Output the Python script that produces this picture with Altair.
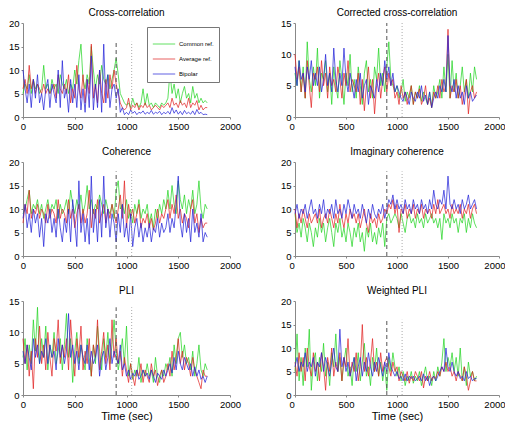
import altair as alt
import pandas as pd

TIME = list(range(0, 1800, 20))
SERIES = ["Common ref.", "Average ref.", "Bipolar"]
COLORS = ["#22d422", "#e02020", "#2020d8"]
EVENTS = [900, 1050]

TITLES = ["Cross-correlation", "Corrected cross-correlation", "Coherence",
          "Imaginary coherence", "PLI", "Weighted PLI"]
YMAX = [20, 15, 20, 20, 15, 20]
EVENT_TOP = [16, 15, 18, 18, 14, 16]
X_TICKS = [0, 500, 1000, 1500, 2000]

cc_green = [5, 7, 6, 9, 5, 8, 6, 7, 5, 6, 11, 6, 7, 5, 8, 6, 7, 5, 9, 7,
            6, 8, 5, 7, 6, 10, 7, 12, 15.5, 8, 6, 9, 7, 15, 10, 6, 9, 7, 11, 8,
            7, 9, 6, 8, 10, 12.5, 9, 5, 4, 3, 2.5, 3, 2, 4, 2.5, 3, 2, 3, 6, 2.5,
            5, 2.5, 3, 2, 3, 2.5, 2, 3, 2.5, 3, 4, 9.5, 5, 7, 4, 6, 3, 5, 6.5, 4,
            5, 3, 6.5, 4, 5, 3, 4, 3, 3.5, 3]
cc_red = [6, 8, 5, 11, 6, 8, 5, 7, 6, 5, 7, 5, 6, 5, 6, 7, 4, 9, 6, 5,
          7, 5, 9, 3, 6, 4, 11, 6, 4, 9, 3, 8, 5, 15.5, 4, 7, 3, 10, 5, 3,
          8, 4, 9, 6, 10, 7, 5, 3, 2, 1.5, 2, 4, 1.5, 2.5, 2, 3, 1.5, 2.5, 2, 3,
          2, 2.5, 1.5, 2, 2.5, 2, 1.5, 2.5, 2, 2.5, 3, 2, 4, 2.5, 3, 2, 3.5, 2.5, 3, 2,
          4, 2, 3, 2.5, 3.5, 1.5, 2.5, 1.5, 2, 2]
cc_blue = [10, 6, 3, 7, 2, 8, 4, 9, 3, 5, 1.5, 6, 8, 2, 7, 5, 3, 10, 2, 12,
           4, 6, 1, 8, 3, 7, 2, 9, 1.5, 6, 1, 8, 2, 13, 1.5, 7, 2, 10, 1, 15.5,
           3, 9, 2, 6, 7, 4, 6, 1, 2, 0.5, 1, 0.5, 1.5, 0.8, 1.2, 0.5, 1, 0.8, 1.3, 0.6,
           1, 0.7, 1.4, 0.6, 1, 0.8, 1.2, 0.5, 1, 0.7, 1.2, 0.6, 2, 0.8, 1.5, 0.6, 1.2, 0.5, 1.4, 0.7,
           1, 0.6, 1.3, 0.5, 1.6, 0.7, 1, 0.5, 0.6, 0.5]

ccc_green = [7, 5, 9, 4, 8, 3, 12, 6, 4, 8, 5, 11, 3, 7, 6, 9, 4, 7, 2, 8,
             5, 3, 9, 6, 2, 7, 5, 10, 4, 6, 3, 8, 5, 2, 7, 9, 4, 6, 3, 8,
             6, 11, 5, 7, 4, 8, 12, 6, 5, 4, 5, 3, 4, 6, 2.5, 4, 3, 5, 2, 4,
             3, 5, 2.5, 4, 3, 2, 4, 1.5, 5, 3, 4, 6, 3, 8, 4, 10, 3, 9, 4, 7,
             3, 5, 8, 4, 6, 3, 7, 4, 8, 6]
ccc_red = [10, 6, 8, 4, 7, 3, 9, 5, 1.5, 7, 6, 8, 4, 9, 5, 7, 3, 8, 5, 6,
           4, 8, 6, 3, 7, 5, 9, 4, 6, 5, 4, 7, 2, 6, 1, 5, 8, 3, 6, 0.5,
           5, 7, 3, 6, 8, 4, 7, 5, 6, 3, 4, 2, 5, 3, 4, 2, 3.5, 5, 2, 4,
           3, 4.5, 2, 3, 5, 2, 3, 1.5, 4, 3, 5, 3, 6, 4, 5, 14, 3, 5, 4, 6,
           3, 5, 2, 4, 6, 0.5, 4, 5, 3, 4]
ccc_blue = [8, 5, 9, 6, 7, 4, 8, 6, 9, 5, 7, 5, 8, 4, 6, 10, 5, 7, 4, 11,
            6, 4, 7, 5, 11, 6, 4, 7, 5, 3, 6, 4, 7, 3, 5, 6, 2, 5, 4, 3,
            6, 4, 7, 5, 9, 6, 8, 5, 7, 4, 5, 4, 3, 2.5, 4, 3, 2, 4, 3, 2.5,
            4, 3, 5, 2.5, 3.5, 2, 4, 1.5, 3, 4, 3, 5, 4, 6, 4, 13, 5, 4, 6, 3,
            5, 3, 4, 2, 5, 3, 4, 2.5, 3, 3.5]

coh_green = [9, 10, 12, 14, 9, 11, 10, 12, 9, 11, 8, 10, 12, 9, 11, 10, 12, 8, 11, 9,
             10, 12, 9, 14, 11, 9, 12, 10, 13, 9, 11, 15, 10, 12, 9, 11, 10, 13, 11, 9,
             12, 10, 9, 11, 8, 14, 16, 10, 11, 9, 12, 8, 10, 7, 11, 9, 12, 8, 10, 9,
             11, 7, 9, 6, 10, 8, 11, 9, 12, 10, 14, 10, 15, 11, 9, 16, 12, 10, 13, 9,
             12, 10, 14, 9, 11, 16, 10, 8, 11, 10]
coh_red = [7, 11, 9, 14, 8, 10, 9, 11, 8, 10, 9, 7, 11, 8, 10, 9, 7, 12, 8, 10,
           9, 7, 12, 8, 10, 6, 9, 11, 7, 10, 7, 9, 14, 6, 10, 8, 12, 7, 9, 11,
           7, 10, 8, 11, 9, 7, 10, 13, 8, 16, 6, 11, 8, 10, 7, 9, 11, 6, 8, 7,
           9, 6, 8, 5.5, 7, 10, 7, 9, 8, 10, 12, 8, 11, 9, 13, 8, 10, 7, 9, 8,
           6, 10, 12, 7, 9, 5, 8, 6, 7, 7]
coh_blue = [8, 11, 6, 9, 5, 10, 7, 9, 4, 8, 2, 9, 7, 10, 5, 8, 4, 10, 6, 3,
            8, 5, 10, 3, 12, 7, 2, 16, 5, 9, 3, 8, 2.5, 17, 5, 10, 3, 12, 4, 17,
            6, 10, 4, 9, 7, 3, 9, 5, 11, 4, 7, 3, 9, 2, 6, 8, 4, 7, 3, 6,
            4, 7, 3, 6, 5, 8, 4, 7, 5, 6, 9, 5, 8, 6, 11, 17, 7, 4, 9, 5,
            8, 3, 10, 5, 7, 4, 9, 3, 5, 4]

ic_green = [9, 5, 7, 4, 8, 6, 3, 7, 5, 2, 6, 4, 8, 5, 7, 3, 6, 8, 5, 2,
            7, 5, 8, 4, 6, 3, 7, 5, 2, 6, 4, 7, 3, 5, 1, 6, 4, 7, 3, 5,
            2.5, 6, 4, 7, 2, 8, 9, 7, 8, 9, 8, 6, 9, 7, 5, 8, 9, 7, 8, 6,
            9, 7, 8, 6, 9, 7, 8, 9, 7, 8, 6, 8, 3.5, 9, 7, 8, 6, 9, 7, 8,
            5, 8, 7, 9, 5, 8, 6, 9, 7, 6]
ic_red = [10, 6, 9, 7, 10, 8, 6, 9, 7, 8, 9, 7, 10, 6, 8, 9, 7, 10, 8, 6,
          9, 7, 11, 8, 6, 9, 7, 10, 8, 9, 7, 9, 6, 8, 10, 7, 5, 9, 7, 8,
          6, 9, 7, 8, 10, 9, 11, 10, 12, 9, 11, 5, 10, 9, 11, 8, 10, 9, 11, 8,
          10, 9, 11, 8, 10, 9, 10, 8, 11, 9, 12, 9, 10, 11, 9, 10, 8, 11, 9, 10,
          9, 11, 8, 10, 9, 11, 8, 10, 11, 9]
ic_blue = [9, 11, 8, 10, 9, 11, 8, 10, 12, 9, 10, 8, 11, 9, 12, 8, 10, 9, 11, 8,
           12, 9, 10, 8, 11, 9, 12, 10, 8, 11, 9, 10, 8, 11, 9, 7, 10, 8, 11, 9,
           8, 10, 9, 11, 8, 10, 12, 11, 13, 10, 12, 10, 11, 9, 12, 10, 11, 9, 12, 10,
           11, 9, 12, 10, 11, 9, 12, 10, 14, 11, 10, 12, 11, 14, 10, 17, 11, 10, 12, 10,
           11, 9, 12, 10, 11, 13, 10, 11, 12, 10]

pli_green = [6, 9, 4, 8, 5, 12, 7, 14, 5, 9, 6, 11, 4, 8, 6, 10, 5, 7, 9, 4,
             8, 13, 6, 9, 2, 7, 10, 5, 8, 6, 4, 9, 6, 3, 8, 5, 11, 7, 4, 9,
             6, 10, 5, 8, 12, 7, 4, 6, 9, 5, 11, 3, 5, 2.5, 4, 3, 6, 2, 4, 3,
             5, 3, 4, 2, 6, 3, 2, 4, 3, 5, 4, 6, 3, 8, 5, 9, 10, 6, 8, 5,
             6, 4, 7, 3, 5, 8, 4, 3, 5, 4]
pli_red = [9, 5, 8, 3, 7, 1, 9, 6, 11, 5, 8, 4, 10, 6, 3, 9, 7, 12, 5, 8,
           6, 9, 4, 12, 7, 3, 9, 6, 11, 4, 7, 5, 9, 3, 8, 6, 12, 4, 7, 10,
           5, 8, 4, 12, 6, 9, 5, 7, 3, 6, 4, 2, 5, 3, 1.5, 4, 3, 5, 2, 4,
           3, 2, 5, 3, 4, 1.5, 3, 4, 2, 3, 5, 3, 7, 4, 6, 9, 5, 7, 4, 6,
           5, 3, 6, 4, 3, 2, 1, 4, 3, 3]
pli_blue = [7, 5, 8, 6, 4, 9, 6, 8, 5, 7, 6, 9, 5, 8, 6, 7, 4, 9, 6, 8,
            5, 7, 13, 6, 8, 5, 7, 4, 8, 6, 5, 8, 4, 7, 5, 6, 8, 3, 6, 7,
            4, 6, 9, 5, 7, 6, 5, 8, 4, 5, 3, 4, 2.5, 3.5, 3, 4, 2.5, 3, 4, 3,
            3.5, 2.5, 4, 3, 2, 3.5, 3, 2.5, 4, 3, 4, 5, 3.5, 6, 4, 7, 5, 4, 6, 5,
            4, 5, 3, 4.5, 3, 4, 2.5, 3, 2, 3]

wpli_green = [5, 13, 3, 8, 2, 10, 6, 14, 1, 7, 9, 3, 8, 5, 11, 4, 7, 2, 9, 6,
              13, 5, 8, 3, 7, 10, 4, 6, 2, 8, 5, 9, 3, 7, 11, 4, 6, 2, 8, 5,
              10, 4, 7, 3, 6, 1, 8, 5, 9, 6, 4, 6, 3, 5, 2, 4, 3, 5, 2.5, 4,
              3, 5, 2, 4, 6, 3, 4, 2, 5, 3, 6, 4, 7, 12, 5, 8, 6, 9, 5, 8,
              4, 10, 3, 6, 2, 7, 4, 5, 3, 4]
wpli_red = [7, 4, 9, 5, 8, 3, 10, 6, 4, 9, 5, 7, 3, 9, 6, 1, 8, 5, 10, 4,
            7, 5, 9, 3, 8, 6, 12, 4, 7, 5, 9, 3, 6, 15, 5, 8, 4, 7, 12, 5,
            7, 4, 9, 5, 7, 8, 6, 4, 7, 5, 6, 3, 5, 4, 3, 5, 2.5, 4, 3, 5,
            4, 3, 5, 1.5, 4, 3, 5, 3, 4, 3.5, 5, 4, 6, 5, 7, 5, 6, 4, 5, 3,
            5, 4, 3, 6, 4, 1, 3, 5, 3, 3]
wpli_blue = [6, 8, 5, 7, 6, 9, 5, 7, 6, 8, 4, 7, 6, 9, 5, 8, 6, 4, 7, 10,
             6, 5, 14, 6, 8, 5, 7, 4, 6, 8, 3, 6, 8, 4, 7, 5, 9, 6, 4, 7,
             5, 8, 6, 4, 7, 5, 9, 6, 5, 4, 5, 3.5, 4, 3, 4.5, 3, 4, 3.5, 4, 3,
             3.5, 4, 3, 4.5, 3, 4, 2, 3.5, 4, 3, 4, 5, 6, 5, 10, 6, 5, 7, 5, 4,
             5, 3.5, 4, 3, 5, 3.5, 4, 3, 3.5, 3.5]

PANELS = [
    (cc_green, cc_red, cc_blue),
    (ccc_green, ccc_red, ccc_blue),
    (coh_green, coh_red, coh_blue),
    (ic_green, ic_red, ic_blue),
    (pli_green, pli_red, pli_blue),
    (wpli_green, wpli_red, wpli_blue),
]

FONT = "Liberation Sans"


def panel(i, width):
    rows = []
    for name, vals in zip(SERIES, PANELS[i]):
        for t, v in zip(TIME, vals):
            rows.append({"time": t, "value": v, "series": name})
    df = pd.DataFrame(rows)
    ymax = YMAX[i]
    bottom = i >= 4
    right = i % 2 == 1
    xcommon = dict(values=X_TICKS, labelOverlap=False, labelBound=False, format="d",
                   labelFlush=right)
    if right:
        xcommon["labelFlushOffset"] = 6
    if bottom:
        xaxis = alt.Axis(title="Time (sec)", titleFontSize=11,
                         titleFontWeight="normal", titlePadding=2, **xcommon)
    else:
        xaxis = alt.Axis(title=None, **xcommon)
    yaxis = alt.Axis(values=list(range(0, ymax + 1, 5)), title=None, labelOverlap=False,
                     labelFlush=False, labelBound=False, format="d", tickCount=len(range(0, ymax + 1, 5)))
    xscale = alt.Scale(domain=[0, 2000])
    yscale = alt.Scale(domain=[0, ymax])
    if i == 0:
        legend = alt.Legend(orient="none", legendX=124, legendY=4, title=None,
                            strokeColor="#777", fillColor="white", padding=5,
                            labelFontSize=6, labelFont=FONT, symbolType="stroke",
                            symbolStrokeWidth=1, symbolSize=500, rowPadding=-4,
                            labelOffset=3, symbolOpacity=0.7)
    else:
        legend = None
    lines = alt.Chart(df).mark_line(strokeWidth=0.8, opacity=0.9).encode(
        x=alt.X("time:Q", scale=xscale, axis=xaxis),
        y=alt.Y("value:Q", scale=yscale, axis=yaxis),
        color=alt.Color("series:N", scale=alt.Scale(domain=SERIES, range=COLORS),
                        sort=SERIES, legend=legend),
    )
    ev = pd.DataFrame({"time": EVENTS, "value": [0, 0], "top": [EVENT_TOP[i]] * 2})
    dash = alt.Chart(ev.iloc[[0]]).mark_rule(color="#555", strokeDash=[4, 3], strokeWidth=1).encode(
        x=alt.X("time:Q", scale=xscale, axis=xaxis),
        y=alt.Y("value:Q", scale=yscale, axis=yaxis), y2="top:Q")
    dot = alt.Chart(ev.iloc[[1]]).mark_rule(color="#aaa", strokeDash=[1, 2], strokeWidth=1).encode(
        x=alt.X("time:Q", scale=xscale, axis=xaxis),
        y=alt.Y("value:Q", scale=yscale, axis=yaxis), y2="top:Q")
    return alt.layer(lines, dash, dot).properties(
        width=width, height=94,
        title=alt.TitleParams(TITLES[i], fontSize=10, fontWeight="normal", font=FONT, offset=0),
    )


panels = [panel(i, 207 if i % 2 == 0 else 204) for i in range(6)]

chart = alt.concat(*panels, columns=2, spacing={"row": 45, "column": 65},
                   bounds="flush", padding=0).configure_view(stroke=None).configure_axis(
    grid=False, domainColor="#888", tickColor="#888", tickSize=2,
    labelFont=FONT, labelFontSize=9.5, labelColor="#000", labelPadding=2,
    titleFont=FONT,
)

chart.save("out.html", embed_options={"renderer": "svg", "actions": False})
